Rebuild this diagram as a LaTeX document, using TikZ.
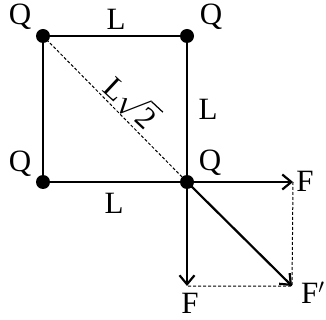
\documentclass[tikz,border=0pt]{standalone}
\usepackage{graphicx}
\usepackage{fontspec}
\setmainfont{Liberation Serif}
\usetikzlibrary{arrows.meta}
\newcommand\labsize{\fontsize{31pt}{33pt}\selectfont}
\newcommand\roottwo{\scalebox{1.24}{\fontsize{25pt}{27pt}\selectfont$\sqrt{\mbox{2}}$}}
\begin{document}
\begin{tikzpicture}[x=1pt,y=-1pt,
  side/.style={line width=2.2pt},
  vec/.style={line width=2.2pt,-{Straight Barb[length=9pt,width=15pt,line width=2.2pt]}},
  guide/.style={line width=1pt,dash pattern=on 3pt off 2pt},
  dot/.style={circle,fill=black,inner sep=0pt,minimum size=14pt},
  lab/.style={font=\labsize,inner sep=0pt,anchor=base}]
\useasboundingbox (0,0) rectangle (326,320);
\coordinate (A) at (43,36);
\coordinate (B) at (187,36);
\coordinate (C) at (43,182);
\coordinate (D) at (187,182);
\coordinate (Fr) at (293,182);
\coordinate (Fd) at (187,286);
\coordinate (Fs) at (292,286);
\draw[guide] (A) -- (D);
\draw[side] (A) -- (B) -- (D) -- (C) -- cycle;
\draw[guide] (Fr) -- (Fs) -- (Fd);
\draw[vec] (D) -- (Fr);
\draw[vec] (D) -- (Fd);
\draw[vec] (D) -- (Fs);
\node[dot] (dA) at (A) {};
\node[dot] (dB) at (B) {};
\node[dot] (dC) at (C) {};
\node[dot] (dD) at (D) {};
\node[lab] (qA) at (20,25) {Q};
\node[lab] (qB) at (211,25) {Q};
\node[lab] (qC) at (20,172) {Q};
\node[lab] (qD) at (210,171) {Q};
\node[lab] (lT) at (116,30) {L};
\node[lab] (lR) at (208,120) {L};
\node[lab] (lB) at (114,213) {L};
\node[lab,anchor=base west,rotate=-43] (lD) at (101,90) {L\roottwo};
\node[lab] (fR) at (305,192) {F};
\node[lab] (fD) at (190,313) {F};
\node[lab,anchor=base west] (fS) at (301,303) {F$'$};
\end{tikzpicture}
\end{document}
